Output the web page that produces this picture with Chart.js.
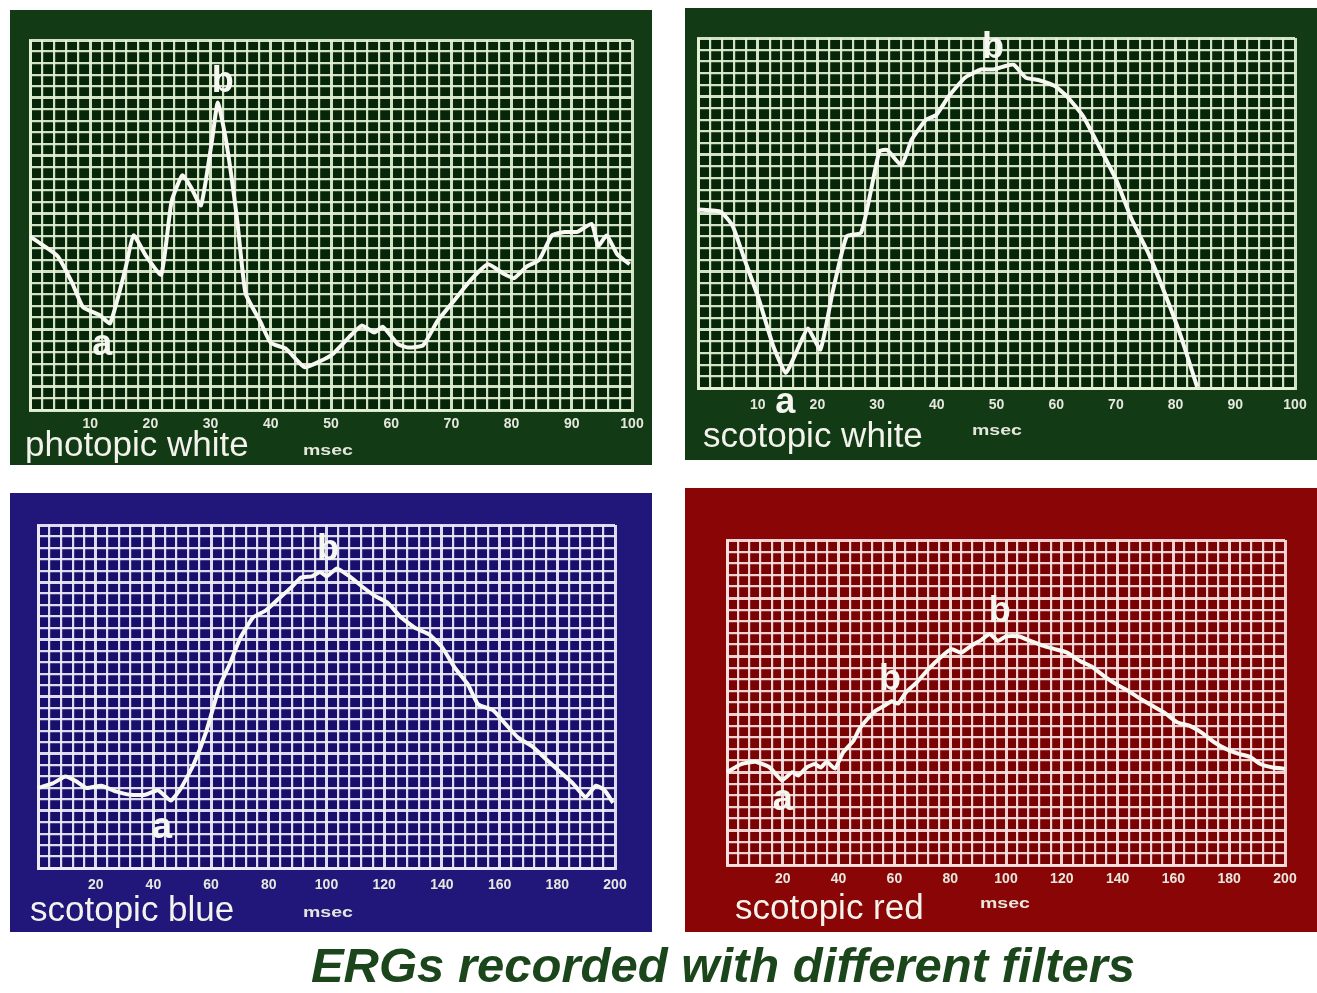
<!DOCTYPE html>
<html lang="en">
<head>
  <meta charset="UTF-8" />
  <title>ERGs recorded with different filters</title>
  <script src="https://cdn.jsdelivr.net/npm/chart.js"></script>
  <style>
    body {
      margin: 0;
      width: 1317px;
      height: 993px;
      background: #ffffff;
      position: relative;
      overflow: hidden;
      font-family: "Liberation Sans", Arial, sans-serif;
    }
    .panel { position: absolute; }
    .panel canvas { position: absolute; left: 0; top: 0; }
    .name {
      position: absolute;
      color: #f3f3ec;
      font-size: 35px;
      white-space: nowrap;
      line-height: 1;
    }
    .unit {
      position: absolute;
      color: #e4e6dc;
      font: bold 15px "Liberation Sans", sans-serif;
      line-height: 1;
      transform: scaleX(1.3);
      transform-origin: left center;
    }
    #title {
      position: absolute;
      left: 0;
      width: 1446px;
      top: 941px;
      text-align: center;
      color: #1b451b;
      font: italic bold 49px "Liberation Sans", Arial, sans-serif;
      line-height: 1;
    }
  </style>
</head>
<body>
  <div id="p1" class="panel" style="left:10px;top:10px;width:642px;height:455px;background:#123a15">
    <canvas id="c1" width="642" height="455"></canvas>
    <div class="name" style="left:15px;top:416px">photopic white</div>
    <div class="unit" style="left:293px;top:432px">msec</div>
  </div>
  <div id="p2" class="panel" style="left:685px;top:8px;width:632px;height:452px;background:#123a15">
    <canvas id="c2" width="632" height="452"></canvas>
    <div class="name" style="left:18px;top:409px">scotopic white</div>
    <div class="unit" style="left:287px;top:414px">msec</div>
  </div>
  <div id="p3" class="panel" style="left:10px;top:493px;width:642px;height:439px;background:#21177b">
    <canvas id="c3" width="642" height="439"></canvas>
    <div class="name" style="left:20px;top:398px">scotopic blue</div>
    <div class="unit" style="left:293px;top:411px">msec</div>
  </div>
  <div id="p4" class="panel" style="left:685px;top:488px;width:632px;height:444px;background:#8a0505">
    <canvas id="c4" width="632" height="444"></canvas>
    <div class="name" style="left:50px;top:401px">scotopic red</div>
    <div class="unit" style="left:295px;top:407px">msec</div>
  </div>
  <div id="title">ERGs recorded with different filters</div>

  <script>
    // time (msec) and amplitude (in grid rows above the bottom edge)
    const photopicWhiteMs = [0, 2, 4.6, 7, 8.8, 11.6, 13.3, 15.8, 17.2, 19.3, 21.8, 23.5, 25.3, 26.7, 28.4, 30.2, 31.2, 32.6, 34.4, 35.8, 38.2, 40, 42.5, 45.6, 48.1, 50.2, 53, 55.1, 57.2, 58.6, 61.1, 62.8, 65.3, 67.7, 70.5, 73.3, 76.1, 78.6, 80.4, 82.5, 84.6, 86.7, 88.8, 90.9, 93.3, 94.4, 95.8, 97.5, 99.6];
    const photopicWhiteAmp = [15.0, 14.3, 13.3, 11.0, 8.9, 8.2, 7.5, 12.1, 15.1, 13.3, 11.7, 18.0, 20.3, 19.3, 17.7, 23.2, 26.6, 23.2, 16.5, 10.1, 7.7, 5.8, 5.3, 3.7, 4.2, 4.8, 6.3, 7.3, 6.7, 7.2, 5.7, 5.4, 5.6, 7.7, 9.5, 11.3, 12.6, 11.8, 11.4, 12.4, 13.0, 15.1, 15.4, 15.4, 16.1, 14.2, 15.1, 13.5, 12.6];

    const scotopicWhiteMs = [0, 3.8, 5.8, 7.8, 10.2, 12.6, 14.7, 16.4, 18.4, 20.5, 22.5, 24.9, 27.3, 29.0, 30.4, 31.7, 34.1, 35.8, 38.2, 39.9, 42.0, 44.7, 47.4, 49.5, 51.5, 52.9, 54.9, 57.0, 59.7, 61.8, 64.5, 67.2, 70.0, 72.7, 75.4, 78.2, 80.9, 83.6];
    const scotopicWhiteAmp = [15.3, 15.1, 13.9, 11.0, 7.6, 3.6, 1.3, 3.0, 5.1, 3.3, 8.1, 13.0, 13.3, 17.0, 20.3, 20.4, 19.1, 21.3, 23.0, 23.4, 25.0, 26.6, 27.3, 27.3, 27.6, 27.7, 26.6, 26.4, 25.9, 25.0, 23.3, 20.7, 17.9, 14.4, 11.6, 8.1, 4.4, 0.1];

    const scotopicBlueMs = [0, 5.1, 9.5, 13.1, 16.8, 21.9, 27.0, 32.1, 37.2, 41.6, 46.0, 49.6, 54.0, 58.4, 62.8, 66.4, 70.1, 74.5, 78.8, 83.2, 87.6, 91.2, 94.9, 97.8, 100, 103.6, 108.0, 112.4, 116.8, 121.2, 125.5, 130.7, 135.8, 140.1, 144.5, 148.9, 152.6, 157.7, 162.0, 166.4, 171.5, 176.6, 181.0, 185.4, 189.8, 193.4, 196.4, 199.3];
    const scotopicBlueAmp = [7.0, 7.4, 8.0, 7.6, 7.0, 7.2, 6.7, 6.4, 6.4, 6.8, 5.9, 7.0, 9.1, 12.0, 15.8, 17.8, 20.1, 21.9, 22.5, 23.5, 24.5, 25.4, 25.5, 25.9, 25.5, 26.2, 25.5, 24.6, 23.8, 23.2, 22.0, 21.0, 20.4, 19.3, 17.5, 16.1, 14.3, 13.8, 12.6, 11.4, 10.6, 9.4, 8.4, 7.4, 6.2, 7.2, 6.8, 5.7];

    const scotopicRedMs = [0, 5.1, 10.2, 15.3, 19.7, 23.4, 25.5, 28.5, 31.4, 33.6, 35.8, 38.7, 41.6, 45.3, 47.4, 50.4, 53.3, 56.2, 59.1, 61.3, 64.2, 67.9, 72.3, 76.6, 80.3, 83.9, 87.6, 91.2, 94.2, 97.1, 100, 104.4, 108.8, 113.1, 117.5, 121.9, 126.3, 130.7, 135.0, 139.4, 143.8, 148.2, 152.6, 156.9, 161.3, 165.7, 170.1, 174.5, 178.8, 183.2, 187.6, 191.2, 195.6, 200];
    const scotopicRedAmp = [8.0, 8.7, 8.9, 8.4, 7.3, 8.0, 7.7, 8.4, 8.7, 8.4, 8.9, 8.3, 9.7, 10.7, 11.7, 12.6, 13.3, 13.7, 14.1, 13.9, 14.9, 15.7, 16.9, 17.9, 18.6, 18.3, 18.9, 19.4, 19.9, 19.3, 19.7, 19.7, 19.3, 18.9, 18.6, 18.3, 17.6, 17.1, 16.3, 15.6, 15.0, 14.3, 13.7, 13.1, 12.3, 12.0, 11.4, 10.6, 10.0, 9.6, 9.3, 8.7, 8.4, 8.3];

    // wave labels: [msec, row, letter]
    const photopicWhiteMarks = [[32, 28.4, 'b'], [12, 5.6, 'a']];
    const scotopicWhiteMarks = [[49.4, 29.1, 'b'], [14.6, -1.3, 'a']];
    const scotopicBlueMarks = [[100.5, 27.8, 'b'], [43, 3.5, 'a']];
    const scotopicRedMarks = [[97.8, 21.8, 'b'], [58.4, 15.9, 'b'], [20, 5.6, 'a']];

    const decor = {
      id: 'decor',
      beforeDraw(chart, args, opts) {
        const { ctx, chartArea: a } = chart;
        ctx.save();
        ctx.fillStyle = opts.cell;
        ctx.fillRect(a.left, a.top, a.right - a.left, a.bottom - a.top);
        ctx.restore();
      },
      afterDatasetsDraw(chart, args, opts) {
        const { ctx, scales: { x, y } } = chart;
        ctx.save();
        ctx.fillStyle = '#f6f6f0';
        ctx.font = 'bold 36px "Liberation Sans", Arial, sans-serif';
        ctx.textAlign = 'center';
        ctx.textBaseline = 'middle';
        opts.marks.forEach(m => ctx.fillText(m[2], x.getPixelForValue(m[0]), y.getPixelForValue(m[1])));
        ctx.restore();
      }
    };

    function drawPanel(id, ms, amp, marks, o) {
      const line = o.line;
      new Chart(document.getElementById(id), {
        type: 'line',
        data: {
          datasets: [{
            data: ms.map((t, i) => ({ x: t, y: amp[i] })),
            borderColor: '#f8f8f2',
            borderWidth: 4,
            pointRadius: 0,
            tension: 0.15,
            clip: false
          }]
        },
        options: {
          responsive: false,
          animation: false,
          events: [],
          layout: { padding: o.pad },
          plugins: {
            legend: { display: false },
            tooltip: { enabled: false },
            decor: { cell: o.cell, marks: marks }
          },
          scales: {
            x: {
              type: 'linear',
              min: 0,
              max: o.xMax,
              afterFit: s => { s.height = 40; },
              border: { color: line, width: 3 },
              grid: {
                drawTicks: false,
                color: line,
                lineWidth: c => (c.tick.value % o.xMajor === 0 ? 3 : 2.2)
              },
              ticks: {
                stepSize: o.xStep,
                autoSkip: false,
                maxRotation: 0,
                padding: o.tickPad,
                color: '#e6e8de',
                font: { family: '"Liberation Sans", sans-serif', size: 14, weight: 'bold' },
                callback: v => (v % o.xMajor === 0 && v > 0 ? v : '')
              }
            },
            y: {
              min: 0,
              max: o.rows,
              afterFit: s => { s.width = 0; },
              border: { color: line, width: 3 },
              grid: {
                drawTicks: false,
                color: line,
                lineWidth: c => ((o.rows - c.tick.value) % 5 === 0 ? 3 : 2.2)
              },
              ticks: { stepSize: 1, display: false }
            }
          }
        },
        plugins: [decor]
      });
    }

    drawPanel('c1', photopicWhiteMs, photopicWhiteAmp, photopicWhiteMarks, {
      xMax: 100, xStep: 2, xMajor: 10, rows: 32, tickPad: 6,
      pad: { left: 20, top: 30, right: 20, bottom: 15 },
      cell: '#072609', line: 'rgba(226,242,212,0.92)'
    });
    drawPanel('c2', scotopicWhiteMs, scotopicWhiteAmp, scotopicWhiteMarks, {
      xMax: 100, xStep: 2, xMajor: 10, rows: 30, tickPad: 9,
      pad: { left: 13, top: 30, right: 22, bottom: 32 },
      cell: '#072609', line: 'rgba(226,242,212,0.92)'
    });
    drawPanel('c3', scotopicBlueMs, scotopicBlueAmp, scotopicBlueMarks, {
      xMax: 200, xStep: 4, xMajor: 20, rows: 30, tickPad: 9,
      pad: { left: 28, top: 32, right: 37, bottom: 24 },
      cell: '#180f6c', line: 'rgba(238,236,246,0.92)'
    });
    drawPanel('c4', scotopicRedMs, scotopicRedAmp, scotopicRedMarks, {
      xMax: 200, xStep: 4, xMajor: 20, rows: 28, tickPad: 6,
      pad: { left: 42, top: 52, right: 32, bottom: 27 },
      cell: '#7a0202', line: 'rgba(246,226,226,0.92)'
    });
  </script>
</body>
</html>
